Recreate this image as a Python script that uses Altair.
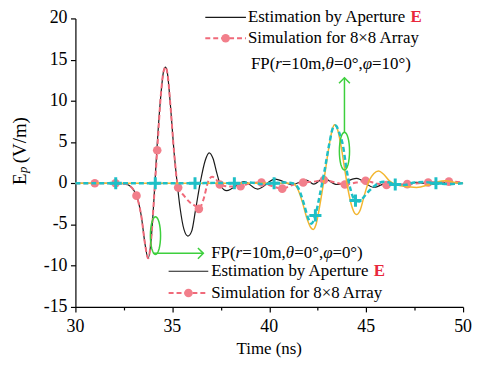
import math
import altair as alt
import pandas as pd

FONT = "Liberation Serif"

# ---- data ----
# Estimation by aperture E, FP(r=10m, theta=0, phi=0)  (black)
est0_t = [30.0, 31.0, 32.0, 32.5, 32.8, 33.0, 33.2, 33.4, 33.6, 33.75, 33.9, 34.05, 34.2, 34.4, 34.55,
          34.65, 34.75, 34.9, 35.1, 35.25, 35.4, 35.6, 35.8, 36.0, 36.2, 36.45, 36.7, 36.9, 37.1, 37.3,
          37.5, 37.8, 38.1, 38.7, 39.4, 40.3, 41.2, 41.9, 42.3, 42.8, 43.5, 44.5, 45.4, 46.1, 46.8,
          47.6, 48.4, 49.2, 50.0]
est0_v = [0, 0, 0, -0.05, -0.3, -0.8, -1.8, -4.0, -7.5, -9.1, -7.0, -2.0, 4.0, 10.5, 13.6,
          14.1, 13.3, 9.5, 3.5, 0.0, -3.0, -5.6, -6.4, -5.8, -3.2, 0.2, 2.8, 3.7, 3.0, 1.2,
          -0.3, -0.9, -0.6, 0.2, -0.7, 0.5, -0.15, 0.4, -0.1, 0.6, -0.15, 0.6, -0.5, 0.05, -0.2,
          0.1, -0.1, 0.1, 0.0]

# Simulation for 8x8 array, phi=0 (pink dashed)
sim0_t = [30.0, 31.0, 32.07, 32.5, 32.8, 33.0, 33.15, 33.4, 33.6, 33.75, 33.9, 34.05, 34.22, 34.4,
          34.55, 34.65, 34.75, 34.9, 35.1, 35.3, 35.6, 35.9, 36.15, 36.37, 36.6, 36.85, 37.05, 37.25,
          37.45, 38.0, 38.52, 39.0, 39.6, 40.1, 40.67, 41.2, 41.75, 42.3, 42.82, 43.4, 43.9, 44.5,
          44.97, 45.5, 46.05, 46.6, 47.12, 47.7, 48.2, 48.8, 49.27, 50.0]
sim0_v = [0, 0, 0, -0.05, -0.3, -0.8, -1.5, -4.0, -7.5, -9.1, -7.0, -2.0, 4.0, 10.5,
          13.6, 14.1, 13.3, 9.5, 3.5, -0.5, -1.5, -2.3, -2.7, -3.1, -2.0, 0.2, 0.8, 0.5,
          -0.15, -0.4, -0.35, 0.0, 0.1, -0.3, -0.65, -0.2, 0.1, 0.2, 0.4, 0.1, -0.15, 0.1,
          0.3, 0.0, -0.2, -0.15, -0.1, 0.0, 0.1, 0.15, 0.2, 0.1]
sim0_mk_t = [31.0, 32.07, 33.15, 34.22, 35.3, 36.37, 37.45, 38.52, 39.6, 40.67, 41.75, 42.82,
             43.9, 44.97, 46.05, 47.12, 48.2, 49.27]
sim0_mk_v = [0, 0, -1.5, 4.0, -0.5, -3.1, -0.15, -0.35, 0.1, -0.65, 0.1, 0.4,
             -0.15, 0.3, -0.2, -0.1, 0.1, 0.2]

# Estimation, phi=10 (orange)
est10_t = [30.0, 35.0, 41.2, 41.45, 41.7, 41.95, 42.15, 42.27, 42.4, 42.6, 42.85, 43.05, 43.25,
           43.37, 43.5, 43.7, 43.9, 44.1, 44.3, 44.5, 44.7, 44.9, 45.15, 45.4, 45.64, 45.9, 46.2,
           46.5, 47.0, 47.6, 48.2, 48.7, 49.1, 49.6, 50.0]
est10_v = [0, 0, 0, -0.6, -2.2, -4.3, -5.4, -5.6, -5.1, -2.8, 0.8, 4.0, 6.5,
           7.1, 6.7, 4.6, 1.6, -1.2, -3.1, -3.8, -3.2, -1.5, 0.3, 1.2, 1.5, 1.1, 0.3,
           -0.1, -0.4, -0.5, -0.2, 0.2, 0.3, 0.1, 0]

# Simulation, phi=10 (cyan dashed)
sim10_t = [30.0, 32.08, 34.12, 36.17, 37.2, 38.2, 39.0, 39.7, 40.25, 40.8, 41.2, 41.5, 41.8, 42.0,
           42.17, 42.38, 42.6, 42.85, 43.1, 43.3, 43.42, 43.6, 43.8, 44.0, 44.2, 44.45, 44.65, 44.9,
           45.2, 45.5, 45.9, 46.2, 46.5, 47.0, 47.5, 48.0, 48.6, 49.2, 50.0]
sim10_v = [0, 0, 0, 0, 0.05, 0, 0.1, -0.1, 0, 0.1, 0, -0.6, -2.6, -4.2,
           -4.9, -3.9, -1.5, 1.5, 4.8, 6.8, 7.0, 6.2, 4.6, 1.5, -0.8, -2.1, -2.2, -1.6,
           -0.8, -0.2, 0.2, 0.1, -0.15, -0.2, 0.1, 0.15, 0.0, -0.1, 0]
sim10_mk_t = [32.08, 34.12, 36.17, 38.2, 40.25, 42.38, 44.45, 46.5, 48.6]
sim10_mk_v = [0, 0, 0, 0, 0, -3.9, -2.1, -0.15, 0.0]

x_ticks = [30, 32.5, 35, 37.5, 40, 42.5, 45, 47.5, 50]
y_ticks = [-15, -12.5, -10, -7.5, -5, -2.5, 0, 2.5, 5, 7.5, 10, 12.5, 15, 17.5, 20]
x_label_vals = [30, 35, 40, 45, 50]
x_label_txt = ["30", "35", "40", "45", "50"]
y_label_vals = [-15, -10, -5, 0, 5, 10, 15, 20]
y_label_txt = ["-15", "-10", "-5", "0", "5", "10", "15", "20"]
x_title = "Time (ns)"

# ---- styles ----
BLACK = "#1a1a1a"
PINK = "#F06A7A"
PINK_FILL = "#F27F8B"
ORANGE = "#F3B630"
CYAN = "#1EBFC6"
GREEN = "#3DCF3D"

W, H = 391, 291

tick_cond = {"condition": {"test": "datum.value % 5 != 0", "value": 3}, "value": 5}

AX = dict(tickSize=tick_cond, labels=False, grid=False, title=None,
          domainColor="black", domainWidth=1.2, tickColor="black", tickWidth=1.2)

XS = alt.Scale(domain=[30, 50], nice=False, zero=False)
YS = alt.Scale(domain=[-15, 20], nice=False, zero=False)
X = alt.X("t:Q", scale=XS, axis=alt.Axis(values=x_ticks, **AX))
Y = alt.Y("v:Q", scale=YS, axis=alt.Axis(values=y_ticks, **AX))


def df(t, v):
    return pd.DataFrame({"t": t, "v": v})


black_line = alt.Chart(df(est0_t, est0_v)).mark_line(
    color=BLACK, strokeWidth=1.2, interpolate="monotone").encode(x=X, y=Y)
pink_line = alt.Chart(df(sim0_t, sim0_v)).mark_line(
    color=PINK, strokeWidth=2, strokeDash=[5, 3], interpolate="monotone").encode(x=X, y=Y)
pink_pts = alt.Chart(df(sim0_mk_t, sim0_mk_v)).mark_point(
    shape="circle", filled=True, size=75, color=PINK_FILL, opacity=1).encode(x=X, y=Y)
orange_line = alt.Chart(df(est10_t, est10_v)).mark_line(
    color=ORANGE, strokeWidth=1.5, interpolate="monotone").encode(x=X, y=Y)
cyan_line = alt.Chart(df(sim10_t, sim10_v)).mark_line(
    color=CYAN, strokeWidth=2.5, strokeDash=[5, 3], interpolate="monotone").encode(x=X, y=Y)
PLUS = "M-1,0L1,0M0,-1L0,1"
cyan_pts = alt.Chart(df(sim10_mk_t, sim10_mk_v)).mark_point(
    shape=PLUS, filled=False, size=150, stroke=CYAN, strokeWidth=3, opacity=1).encode(x=X, y=Y)

# tick labels drawn through the same scales
xlab = alt.Chart(pd.DataFrame({"t": x_label_vals, "lab": x_label_txt})).mark_text(
    font=FONT, fontSize=18, color="black", baseline="middle", align="center").encode(
    x=alt.X("t:Q", scale=XS), y=alt.value(H + 20), text="lab:N")
ylab = alt.Chart(pd.DataFrame({"v": y_label_vals, "lab": y_label_txt})).mark_text(
    font=FONT, fontSize=18, color="black", baseline="middle", align="right").encode(
    y=alt.Y("v:Q", scale=YS), x=alt.value(-8), text="lab:N")

dummy = pd.DataFrame({"d": [0]})

# ---- green annotations (data coordinates) ----
ell_pts = []
for k in range(33):
    a = 2 * math.pi * k / 32
    ell_pts.append(f"{0.27 * math.sin(a):.3f},{-math.cos(a):.3f}")
ELLIPSE = "M" + "L".join(ell_pts) + "Z"


def ellipse(t, v):
    return alt.Chart(dummy).mark_point(shape=ELLIPSE, filled=False, size=1444,
                                       stroke=GREEN, strokeWidth=1.5, opacity=1).encode(
        x=alt.datum(t), y=alt.datum(v))


ell1 = ellipse(34.13, -6.35)
ell2 = ellipse(43.88, 3.9)
arrow1 = alt.Chart(dummy).mark_rule(color=GREEN, strokeWidth=1.5).encode(
    x=alt.datum(34.0), x2=alt.datum(36.6), y=alt.datum(-8.5))
head1 = alt.Chart(dummy).mark_point(shape="M-1,-1L0,0L-1,1", filled=False, size=120,
                                    stroke=GREEN, strokeWidth=1.5, opacity=1).encode(
    x=alt.datum(36.6), y=alt.datum(-8.5))
arrow2 = alt.Chart(dummy).mark_rule(color=GREEN, strokeWidth=1.5).encode(
    x=alt.datum(43.88), y=alt.datum(6.1), y2=alt.datum(12.8))
head2 = alt.Chart(dummy).mark_point(shape="M-1,1L0,0L1,1", filled=False, size=120,
                                    stroke=GREEN, strokeWidth=1.5, opacity=1).encode(
    x=alt.datum(43.88), y=alt.datum(12.8))

# ---- text helpers (pixel positions, relative to plot area) ----
TNR = {"F": 556, "P": 556, "(": 333, ")": 333, "=": 564, "1": 500, "0": 500, "m": 778,
       ",": 250, "°": 400, "r": 389, "θ": 500, "φ": 550}


def txt(text, x, y, size=17, color="black", style="normal", weight="normal",
        align="left", angle=0, baseline="middle"):
    return alt.Chart(dummy).mark_text(
        text=text, font=FONT, fontSize=size, color=color, fontStyle=style,
        fontWeight=weight, align=align, baseline=baseline, angle=angle).encode(
        x=alt.value(x), y=alt.value(y))


def fp_label(x0, y, phi):
    pieces = [("FP(", "normal"), ("r", "italic"), ("=10m,", "normal"), ("θ", "italic"),
              ("=0°,", "normal"), ("φ", "italic"), (f"={phi}°)", "normal")]
    layers = []
    x = x0
    for s, st in pieces:
        layers.append(txt(s, x, y, style=st))
        x += sum(TNR[c] for c in s) / 1000 * 17
    return layers


def legend_block(lx0, lx1, ly_black, ly_pink, tx):
    lays = []
    lays.append(alt.Chart(dummy).mark_rule(color=BLACK, strokeWidth=1.2).encode(
        x=alt.value(lx0), x2=alt.value(lx1), y=alt.value(ly_black)))
    lays.append(alt.Chart(dummy).mark_rule(color=PINK, strokeWidth=2, strokeDash=[5, 3]).encode(
        x=alt.value(lx0), x2=alt.value(lx1), y=alt.value(ly_pink)))
    lays.append(alt.Chart(dummy).mark_point(shape="circle", filled=True, size=75,
                                            color=PINK_FILL, opacity=1).encode(
        x=alt.value((lx0 + lx1) / 2), y=alt.value(ly_pink)))
    est = "Estimation by Aperture "
    lays.append(txt(est, tx, ly_black))
    w = sum({"E": 611, "s": 389, "t": 278, "i": 278, "m": 778, "a": 444, "o": 500,
             "n": 500, " ": 250, "b": 500, "y": 500, "A": 722, "p": 500, "e": 444,
             "r": 333, "u": 500}[c] for c in est) / 1000 * 17
    lays.append(txt("E", tx + w, ly_black, color="#E8283C", weight="bold"))
    lays.append(txt("Simulation for 8×8 Array", tx, ly_pink))
    return lays


texts = []
texts += legend_block(131, 172, -1, 20, 174)
texts += fp_label(177, 46, 10)
texts += fp_label(137, 237, 0)
texts += legend_block(94, 134, 255, 277, 137)

# axis titles
texts.append(txt(x_title, W / 2, H + 42, size=17, align="center"))
texts.append(txt("E", -50, 168, size=19, angle=270, baseline="alphabetic"))
texts.append(txt("p", -49, 156, size=13, style="italic", angle=270, baseline="alphabetic"))
texts.append(txt("(V/m)", -50, 146, size=19, angle=270, baseline="alphabetic"))

chart = alt.layer(
    black_line, pink_line, pink_pts, orange_line, cyan_line, cyan_pts, xlab, ylab,
    ell1, ell2, arrow1, head1, arrow2, head2, *texts
).properties(
    width=W, height=H,
    autosize=alt.AutoSizeParams(type="none"),
    padding={"left": 68, "top": 9, "right": 9, "bottom": 52},
).configure_view(stroke=None)

chart.save("out.html", embed_options={"renderer": "svg", "actions": False})
